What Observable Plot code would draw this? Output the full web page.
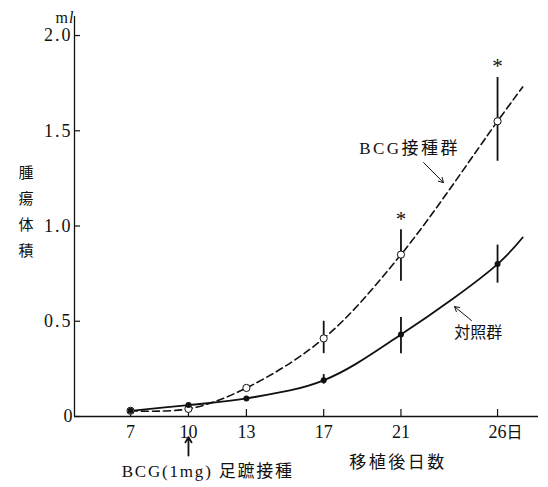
<!DOCTYPE html>
<html><head><meta charset="utf-8">
<script src="https://cdn.jsdelivr.net/npm/d3@7"></script>
<script src="https://cdn.jsdelivr.net/npm/@observablehq/plot@0.6"></script>
<style>body{margin:0;background:#fff}</style>
</head><body><div id="chart"></div>
<script>
// ---- data ----
const days = [7, 10, 13, 17, 21, 26];
const bcgVol  = [0.03, 0.04, 0.15, 0.41, 0.85, 1.55];
const bcgLow  = [null, null, null, 0.33, 0.71, 1.34];
const bcgHigh = [null, null, null, 0.50, 0.98, 1.78];
const ctrlVol  = [0.03, 0.06, 0.095, 0.19, 0.43, 0.80];
const ctrlLow  = [null, null, null, 0.17, 0.33, 0.70];
const ctrlHigh = [null, null, null, 0.22, 0.52, 0.90];
// fitted curves continue a little past day 26
const curveEndDay = 27.3;
const bcgCurveEnd = 1.73;
const ctrlCurveEnd = 0.94;
const starDays = [21, 26];
const xTicks = [7, 10, 13, 17, 21, 26];
const yTicks = [0, 0.5, 1.0, 1.5, 2.0];
const yTickLabels = ["0", "0.5", "1.0", "1.5", "2.0"];
const seriesLabels = ["BCG接種群", "対照群"];
const xTitle = "移植後日数";
const yTitle = "腫瘍体積";
const unitLabel = "ml";
const dayUnit = "日";
const eventLabel = "BCG(1mg) 足蹠接種";
const eventDay = 10;

// ---- tables built from the arrays ----
const bcg = days.map((d, i) => ({day: d, v: bcgVol[i], lo: bcgLow[i], hi: bcgHigh[i]}));
const ctrl = days.map((d, i) => ({day: d, v: ctrlVol[i], lo: ctrlLow[i], hi: ctrlHigh[i]}));
const bcgCurve = [...bcg, {day: curveEndDay, v: bcgCurveEnd}];
const ctrlCurve = [...ctrl, {day: curveEndDay, v: ctrlCurveEnd}];
const bcgBars = bcg.filter(d => d.lo != null);
const ctrlBars = ctrl.filter(d => d.lo != null);
const stars = bcg.filter(d => starDays.includes(d.day));

const serif = "'Liberation Serif', 'Noto Sans CJK JP', serif";
const xMin = 4.1, xMax = 28.12;

const chart = Plot.plot({
  width: 548,
  height: 487,
  marginLeft: 74,
  marginRight: 10,
  marginTop: 16,
  marginBottom: 71,
  style: {fontFamily: serif, fontSize: "17px", background: "#fff", color: "#111"},
  x: {domain: [xMin, xMax]},
  y: {domain: [0, 2.1]},
  marks: [
    // axes
    Plot.ruleX([xMin], {stroke: "#111", strokeWidth: 1.3}),
    Plot.ruleY([0], {stroke: "#111", strokeWidth: 1.3}),
    Plot.axisY({ticks: yTicks, tickSize: -6, tickFormat: () => "", strokeWidth: 1.2}),
    Plot.axisX({ticks: xTicks, tickSize: -7, tickFormat: () => "", strokeWidth: 1.2}),
    Plot.text(yTicks, {x: xMin, y: d => d, text: (d, i) => yTickLabels[i], textAnchor: "end", dx: -2,
      fontFamily: serif, fontSize: 18}),
    Plot.text(xTicks, {x: d => d, y: 0, text: d => String(d), dy: 16, fontFamily: serif, fontSize: 18}),
    Plot.text([dayUnit], {x: xTicks[xTicks.length - 1], y: 0, dx: 17, dy: 16, fontFamily: serif, fontSize: 16}),
    Plot.text([unitLabel], {frameAnchor: "top-left", dx: -19, dy: -5, fontFamily: serif, fontSize: 16}),
    Plot.text([yTitle.split("").join("\n")], {frameAnchor: "left", dx: -56, dy: -8, lineHeight: 1.75,
      fontFamily: serif, fontSize: 15}),
    // curves
    Plot.line(bcgCurve, {x: "day", y: "v", curve: "catmull-rom", stroke: "#111", strokeWidth: 1.6,
      strokeDasharray: "7,4"}),
    Plot.line(ctrlCurve, {x: "day", y: "v", curve: "catmull-rom", stroke: "#111", strokeWidth: 1.8}),
    // error bars
    Plot.ruleX(bcgBars, {x: "day", y1: "lo", y2: "hi", stroke: "#111", strokeWidth: 1.8}),
    Plot.ruleX(ctrlBars, {x: "day", y1: "lo", y2: "hi", stroke: "#111", strokeWidth: 1.8}),
    // points
    Plot.dot(bcg, {x: "day", y: "v", r: 3.6, fill: "#fff", stroke: "#111", strokeWidth: 1}),
    Plot.dot(ctrl, {x: "day", y: "v", r: 3, fill: "#111"}),
    // significance stars
    Plot.text(stars, {x: "day", y: "hi", text: () => "*", dy: -11, fontSize: 21, fontFamily: serif}),
    // annotations
    Plot.text([seriesLabels[0]], {x: 21.45, y: 1.405, fontFamily: serif, fontSize: 17}),
    Plot.text([seriesLabels[1]], {x: 25.0, y: 0.44, fontFamily: serif, fontSize: 16}),
    Plot.text([xTitle], {x: 20.85, y: -0.24, fontFamily: serif, fontSize: 17}),
    Plot.text([eventLabel], {x: 11.0, y: -0.29, fontFamily: serif, fontSize: 17}),
    Plot.arrow([{x1: 22.17, y1: 1.333, x2: 23.2, y2: 1.228}, {x1: 24.65, y1: 0.504, x2: 23.77, y2: 0.577}],
      {x1: "x1", y1: "y1", x2: "x2", y2: "y2", stroke: "#111", strokeWidth: 1, headLength: 8}),
    Plot.arrow([{x1: eventDay, y1: -0.205, x2: eventDay, y2: -0.108}],
      {x1: "x1", y1: "y1", x2: "x2", y2: "y2", stroke: "#111", strokeWidth: 1.8, headLength: 9})
  ]
});

// widen letter spacing like the original typesetting; italic "l" in the unit
const spacing = new Map([
  [seriesLabels[0], "2.5px"], [xTitle, "2.5px"], [eventLabel, "1.8px"],
  ...yTickLabels.filter(t => t.length > 1).map(t => [t, "2px"])
]);
d3.select(chart).selectAll("text").each(function () {
  const t = this.textContent;
  const s = spacing.get(t);
  if (s) this.style.letterSpacing = s;
  if (t === unitLabel && this.childElementCount === 0) {
    this.textContent = "";
    d3.select(this).append("tspan").text(unitLabel[0]);
    d3.select(this).append("tspan").attr("font-style", "italic").attr("dx", 1).text(unitLabel.slice(1));
  }
});
document.getElementById("chart").appendChild(chart);
</script>
</body></html>
